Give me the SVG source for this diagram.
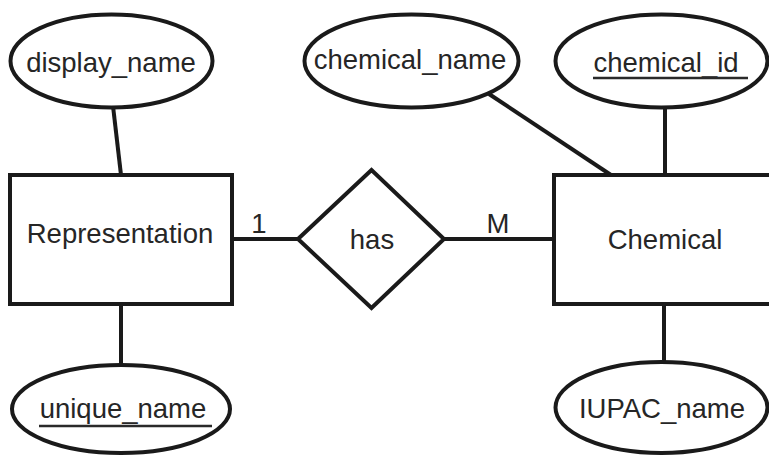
<svg xmlns="http://www.w3.org/2000/svg" width="769" height="455" viewBox="0 0 769 455">
<style>
.s{fill:#fff;stroke:#1a1a1a;stroke-width:4}
.l{stroke:#1a1a1a;stroke-width:4;fill:none}
.u{stroke:#2a2a2a;stroke-width:2.5}
text{font-family:"Liberation Sans",Arial,sans-serif;font-size:27.5px;fill:#262626;text-anchor:middle}
</style>
<rect width="769" height="455" fill="#fff"/>
<g id="connectors">
<line class="l" x1="113" y1="106" x2="121" y2="175"/>
<line class="l" x1="121" y1="304" x2="121" y2="366"/>
<line class="l" x1="232" y1="239" x2="298" y2="239"/>
<line class="l" x1="444" y1="239" x2="554" y2="239"/>
<line class="l" x1="489" y1="94" x2="611" y2="175"/>
<line class="l" x1="665" y1="107" x2="665" y2="175"/>
<line class="l" x1="664" y1="304" x2="664" y2="363"/>
<text x="259" y="233">1</text>
<text x="498" y="233">M</text>
</g>
<g id="display_name">
<ellipse class="s" cx="111.5" cy="61" rx="101" ry="46.5"/>
<text x="111" y="72">display_name</text>
</g>
<g id="chemical_name">
<ellipse class="s" cx="411.5" cy="61" rx="107" ry="46.5"/>
<text x="410" y="69">chemical_name</text>
</g>
<g id="chemical_id">
<ellipse class="s" cx="661.5" cy="61" rx="106" ry="46.5"/>
<text x="666" y="72">chemical_id</text>
<line class="u" x1="593" y1="78" x2="748" y2="78"/>
</g>
<g id="Representation">
<rect class="s" x="10" y="175" width="222" height="129"/>
<text x="120" y="243">Representation</text>
</g>
<g id="has">
<polygon class="s" points="298,239 371.5,170 444,239 371.5,308"/>
<text x="372" y="249">has</text>
</g>
<g id="Chemical">
<rect class="s" x="554" y="175" width="240" height="129"/>
<text x="665" y="249">Chemical</text>
</g>
<g id="unique_name">
<ellipse class="s" cx="121" cy="409" rx="109" ry="44"/>
<text x="123" y="418">unique_name</text>
<line class="u" x1="39" y1="426" x2="212" y2="426"/>
</g>
<g id="IUPAC_name">
<ellipse class="s" cx="661.5" cy="407.5" rx="106" ry="45.5"/>
<text x="662" y="418">IUPAC_name</text>
</g>
</svg>
